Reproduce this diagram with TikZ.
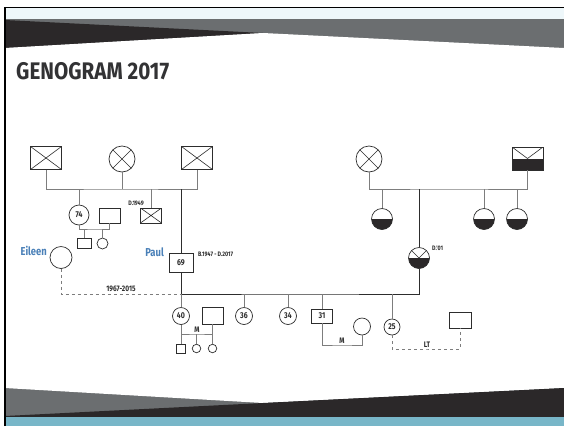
\documentclass[tikz,border=0pt]{standalone}
\usepackage{fontspec}
\setmainfont{Fira Sans}
\newfontfamily\dinfont[FakeStretch=0.82]{Fira Sans}
\newfontfamily\titlefont[FakeStretch=0.86]{Fira Sans}
\usetikzlibrary{positioning,calc}
\definecolor{hdrgrey}{RGB}{107,110,112}
\definecolor{hdrblack}{RGB}{43,40,41}
\definecolor{hdrcyan}{RGB}{238,247,250}
\definecolor{ftrteal}{RGB}{120,182,200}
\definecolor{nameblue}{RGB}{74,128,184}
\definecolor{linegrey}{RGB}{125,125,125}
\definecolor{linedark}{RGB}{45,45,45}
\definecolor{titlegrey}{RGB}{50,50,52}
\tikzset{
  person/.style={draw=linedark, line width=0.7pt, fill=white, inner sep=0pt,
                 font=\dinfont\bfseries\fontsize{8.5}{8.5}\selectfont, text=linedark},
  male/.style={person, rectangle},
  female/.style={person, circle},
  dead/.style={path picture={\draw[linedark, line width=0.6pt]
      (path picture bounding box.north west) -- (path picture bounding box.south east)
      (path picture bounding box.south west) -- (path picture bounding box.north east);}},
  halffill/.style={path picture={\fill[hdrblack]
      (path picture bounding box.west) rectangle (path picture bounding box.south east);}},
  deadhalf/.style={path picture={\fill[hdrblack]
      (path picture bounding box.west) rectangle (path picture bounding box.south east);
      \draw[linedark, line width=0.6pt] (path picture bounding box.north west)
      -- (path picture bounding box.center) -- (path picture bounding box.north east);}},
  kin/.style={draw=linegrey, line width=0.9pt},
  bloodline/.style={draw=linedark, line width=1pt},
  smalltext/.style={font=\dinfont\bfseries\fontsize{6.5}{6.5}\selectfont, text=linedark, inner sep=1pt},
  reltext/.style={font=\dinfont\bfseries\fontsize{8}{8}\selectfont, text=linedark, inner sep=1.5pt},
  nametext/.style={font=\dinfont\bfseries\fontsize{11.5}{11.5}\selectfont, text=nameblue, inner sep=0pt}
}
\begin{document}
\begin{tikzpicture}[x=1pt, y=-1pt]
\useasboundingbox (0,0) rectangle (564,426);
\fill[white] (0,0) rectangle (564,426);

% header and footer bands
\fill[hdrcyan] (5,8) rectangle (564,19);
\fill[hdrgrey] (5,19) rectangle (564,48);
\fill[hdrblack] (5,20) -- (263,33) -- (5,48) -- cycle;
\fill[white] (5,48) -- (263,33) -- (564,48) -- cycle;
\fill[hdrgrey] (5,388) rectangle (564,417);
\fill[white] (5,388) -- (263,403) -- (564,388) -- cycle;
\fill[hdrblack] (5,416) -- (263,403) -- (564,388) -- (564,417) -- (5,417) -- cycle;
\fill[ftrteal] (5,417) rectangle (564,426);
\draw[black, line width=1.5pt] (5,426) -- (5,7.5) -- (564,7.5);

\node[anchor=south west, inner sep=0pt, text=titlegrey,
      font=\titlefont\bfseries\fontsize{24}{24}\selectfont] (title) at (16,80) {GENOGRAM 2017};

% first generation, father's side
\node[male, dead, minimum width=31pt, minimum height=23pt] (topA) at (46,158) {};
\node[female, dead, minimum size=26pt] (topB) at (122,159) {};
\node[male, dead, minimum width=31pt, minimum height=23pt] (topC) at (197,158) {};

% second generation, father's side
\node[female, minimum size=20pt] (aunt74) at (79,215) {74};
\node[male, minimum width=21pt, minimum height=15pt] (aunt74sp) at (109.5,215.5) {};
\node[male, minimum width=14pt, minimum height=10pt] (cousinA) at (84,243) {};
\node[female, minimum size=11pt] (cousinB) at (102.5,243.5) {};
\node[male, dead, minimum width=21pt, minimum height=15pt] (uncle49) at (151,215.5) {};
\node[smalltext, anchor=south east] (uncle49lbl) at (145,207) {D.1949};
\node[female, minimum size=22pt] (eileen) at (61,257.5) {};
\node[nametext, anchor=east] (eileenlbl) at (47,251) {Eileen};
\node[male, minimum width=24pt, minimum height=19pt] (paul) at (181,262.5) {69};
\node[nametext, anchor=east] (paullbl) at (164,252) {Paul};
\node[smalltext, anchor=west] (paullife) at (197,254) {B.1947 - D.2017};

% mother's side
\node[female, dead, minimum size=26pt] (topD) at (369,159) {};
\node[male, deadhalf, minimum width=31pt, minimum height=23pt] (topE) at (527.5,158.5) {};
\node[female, halffill, minimum size=21pt] (rA) at (382,219) {};
\node[female, halffill, minimum size=21pt] (rB) at (484,219) {};
\node[female, halffill, minimum size=21pt] (rC) at (517,219) {};
\node[female, deadhalf, minimum size=21pt] (mum) at (419,258) {};
\node[smalltext, anchor=west] (mumlbl) at (431,248) {D.'01};

% children
\node[female, minimum size=17pt] (c40) at (181,316) {40};
\node[male, minimum width=21pt, minimum height=17pt] (c40sp) at (212.5,315.5) {};
\node[male, minimum width=9pt, minimum height=9pt] (g1) at (181,348.5) {};
\node[female, minimum size=8.5pt] (g2) at (196.5,348.5) {};
\node[female, minimum size=8.5pt] (g3) at (212.5,348.5) {};
\node[female, minimum size=17pt] (c36) at (244,316) {36};
\node[female, minimum size=17pt] (c34) at (288,316) {34};
\node[male, minimum width=21pt, minimum height=14pt] (c31) at (322,316) {31};
\node[female, minimum size=17pt] (c31sp) at (362,326.5) {};
\node[female, minimum size=16pt] (c25) at (392,327) {25};
\node[male, minimum width=22pt, minimum height=16pt] (c25sp) at (460,320) {};

\coordinate (sibL) at (120,189);
\coordinate (sibR) at (450,189);
\coordinate (kb) at (300,294);
\coordinate (mar74) at (95,229);
\coordinate (mar40) at (197,334);
\coordinate (mar31) at (342,345);
\coordinate (lt25) at (427,349);

% sibling bars
\draw[kin] (topA.south) |- (sibL) -| (topC.south);
\draw[kin] (topB.south) -- (topB.south |- sibL);
\draw[kin] (aunt74.north) -- (aunt74.north |- sibL);
\draw[kin] (uncle49.north) -- (uncle49.north |- sibL);
\draw[bloodline] (paul.north) -- (paul.north |- sibL);
\draw[kin] (topD.south) |- (sibR) -| (topE.south);
\draw[kin] (rA.north) -- (rA.north |- sibR);
\draw[kin] (rB.north) -- (rB.north |- sibR);
\draw[kin] (rC.north) -- (rC.north |- sibR);
\draw[bloodline] (mum.north) -- (mum.north |- sibR);

% couples
\draw[kin] (aunt74.south) |- (mar74) -| (aunt74sp.south);
\draw[kin] (cousinA.north) -- (cousinA.north |- mar74);
\draw[kin] (cousinB.north) -- (cousinB.north |- mar74);
\draw[kin, dashed] (eileen.south) |- (kb -| paul.south)
  node[reltext, pos=0.75, above] {1967-2015};
\draw[bloodline] (paul.south) |- (kb) -| (mum.south);
\draw[kin] (c40.north) -- (c40.north |- kb);
\draw[kin] (c36.north) -- (c36.north |- kb);
\draw[kin] (c34.north) -- (c34.north |- kb);
\draw[kin] (c31.north) -- (c31.north |- kb);
\draw[kin] (c25.north) -- (c25.north |- kb);
\draw[kin] (c40.south) |- (mar40) -| (c40sp.south);
\node[reltext, above] at (mar40) {M};
\draw[kin] (g1.north) -- (g1.north |- mar40);
\draw[kin] (g2.north) -- (g2.north |- mar40);
\draw[kin] (g3.north) -- (g3.north |- mar40);
\draw[kin] (c31.south) |- (mar31) -| (c31sp.south);
\node[reltext, above] at (mar31) {M};
\draw[kin, dashed] (c25.south) |- (lt25) -| (c25sp.south);
\node[reltext, above] at (lt25) {LT};

\end{tikzpicture}
\end{document}
